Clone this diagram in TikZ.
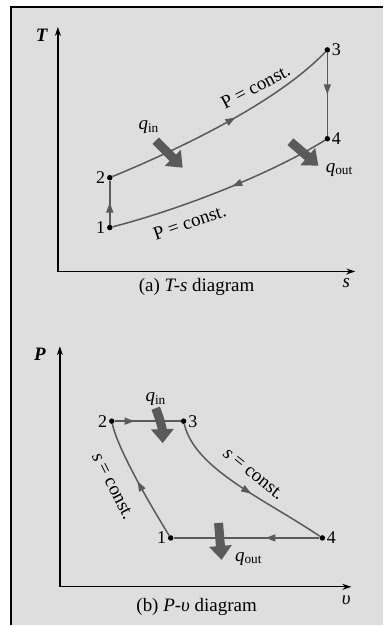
\documentclass[tikz,border=0pt]{standalone}
\usepackage{fontspec}
\setmainfont{Liberation Serif}
\usetikzlibrary{arrows.meta,decorations.markings}
\definecolor{bgc}{RGB}{222,222,222}
\definecolor{lc}{RGB}{90,90,90}
\begin{document}
\begin{tikzpicture}[x=1pt,y=-1pt,
  dot/.style={circle,fill=black,inner sep=0pt,minimum size=5.5pt},
  proc/.style={draw=lc,line width=1.5pt},
  midarrow/.style={postaction={decorate},decoration={markings,mark=at position #1 with {\arrow{Triangle[length=10pt,width=7pt]}}}},
  axis/.style={draw=black,line width=1.3pt},
  heat/.style={draw=lc,line width=9pt,-{Triangle[length=14pt,width=22pt]}},
  lbl/.style={font=\fontsize{18}{20}\selectfont,inner sep=0.5pt},
  txt/.style={font=\fontsize{19}{22}\selectfont,inner sep=0.5pt},
]
% background and frame
\fill[white] (0,0) rectangle (384,626);
\fill[bgc] (11,7) rectangle (384,626);
\draw[line width=2.5pt] (11,626) -- (11,7) -- (384,7);

% ---------- (a) T-s diagram ----------
\coordinate (oa) at (58,272);
\coordinate (ta) at (58,27);
\coordinate (sa) at (356,272);
\draw[axis,{Stealth[length=9pt,width=6pt]}-{Stealth[length=9pt,width=6pt]}] (ta) -- (oa) -- (sa);
\node[txt] (Tlab) at (42,35) {\textbf{\textit{T}}};
\node[txt] (slab) at (347,284) {\textit{s}};
\node[txt] (capa) at (197,288) {(a) \textit{T-s} diagram};

\node[dot] (a1) at (110,228) {};
\node[dot] (a2) at (110,178) {};
\node[dot] (a3) at (328,50) {};
\node[dot] (a4) at (328,139) {};
\node[lbl,anchor=east] (la1) at ([xshift=-1pt]a1.west) {1};
\node[lbl,anchor=east] (la2) at ([xshift=-1pt]a2.west) {2};
\node[lbl,anchor=west] (la3) at ([xshift=1pt]a3.east) {3};
\node[lbl,anchor=west] (la4) at ([xshift=1pt]a4.east) {4};

\draw[proc,midarrow=0.5] (a1) -- (a2);
\draw[proc,midarrow=0.55] (a2) .. controls (190,145) and (280,100) .. (a3);
\draw[proc,midarrow=0.5] (a3) -- (a4);
\draw[proc,midarrow=0.45] (a4) .. controls (270,175) and (180,210) .. (a1);

\node[txt,rotate=28] (pca) at (256,87) {P = const.};
\node[txt,rotate=19] (pcb) at (190,223) {P = const.};

\node[txt] (qina) at (149,127) {\textit{q}\textsubscript{in}};
\node[txt] (qouta) at (340,170) {\textit{q}\textsubscript{out}};
\coordinate (hia) at (156,141);
\coordinate (hib) at (183,168);
\coordinate (hoa) at (291,142);
\coordinate (hob) at (319,166);
\draw[heat] (hia) -- (hib);
\draw[heat] (hoa) -- (hob);

% ---------- (b) P-v diagram ----------
\coordinate (ob) at (60,588);
\coordinate (tb) at (60,347);
\coordinate (vb) at (352,588);
\draw[axis,{Stealth[length=9pt,width=6pt]}-{Stealth[length=9pt,width=6pt]}] (tb) -- (ob) -- (vb);
\node[txt] (Plab) at (40,355) {\textbf{\textit{P}}};
\node[txt] (vlab) at (347,601) {\textit{υ}};
\node[txt] (capb) at (197,608) {(b) \textit{P-υ} diagram};

\node[dot] (b1) at (171,539) {};
\node[dot] (b2) at (112,422) {};
\node[dot] (b3) at (184,422) {};
\node[dot] (b4) at (323,539) {};
\node[lbl,anchor=east] (lb1) at ([xshift=-1pt]b1.west) {1};
\node[lbl,anchor=east] (lb2) at ([xshift=-1pt]b2.west) {2};
\node[lbl,anchor=west] (lb3) at ([xshift=1pt]b3.east) {3};
\node[lbl,anchor=west] (lb4) at ([xshift=1pt]b4.east) {4};

\draw[proc,midarrow=0.3] (b2) -- (b3);
\draw[proc,midarrow=0.55] (b3) .. controls (195,470) and (265,500) .. (b4);
\draw[proc,midarrow=0.37] (b4) -- (b1);
\draw[proc,midarrow=0.5] (b1) .. controls (150,505) and (118,450) .. (b2);

\node[txt,rotate=-63] (scl) at (113,487) {\textit{s} = const.};
\node[txt,rotate=-39] (scr) at (254,475) {\textit{s} = const.};

\node[txt] (qinb) at (156,400) {\textit{q}\textsubscript{in}};
\node[txt] (qoutb) at (249,560) {\textit{q}\textsubscript{out}};
\coordinate (hic) at (156,409);
\coordinate (hid) at (163,444);
\coordinate (hoc) at (219,524);
\coordinate (hod) at (222,561);
\draw[heat] (hic) to[bend left=10] (hid);
\draw[heat] (hoc) -- (hod);
\end{tikzpicture}
\end{document}
